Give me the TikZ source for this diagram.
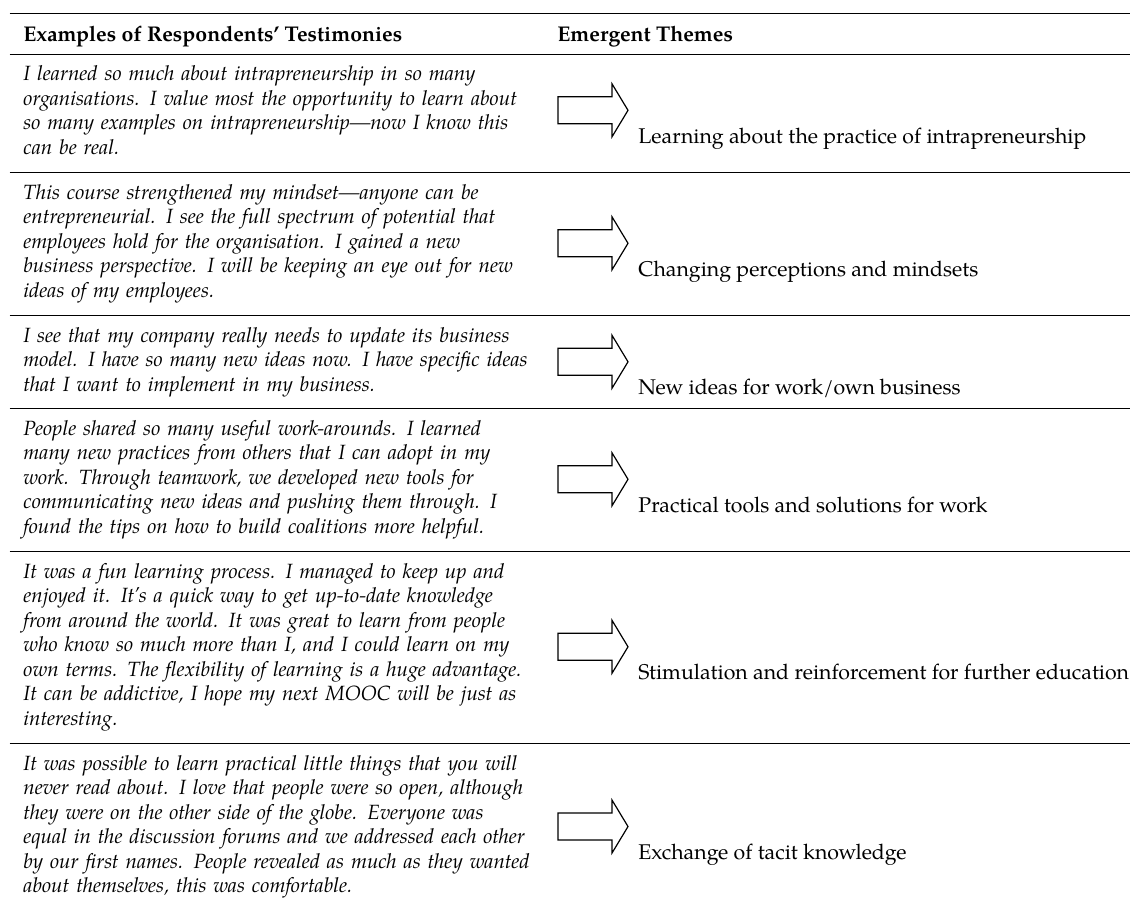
\documentclass[tikz,border=0pt]{standalone}
\usepackage{fontspec}
\setmainfont{TeX Gyre Pagella}
\newcommand{\jline}[1]{\makebox[250pt][s]{#1}}
\begin{document}
\begin{tikzpicture}[x=0.5pt,y=-0.5pt,
  testimony/.style={anchor=base west, inner sep=0pt, text width=275pt, align=left,
    font=\fontsize{10.3}{12.25}\selectfont\itshape},
  theme/.style={anchor=base west, inner sep=0pt, font=\fontsize{10.65}{12.25}\selectfont},
  headtext/.style={anchor=base west, inner sep=0pt, font=\fontsize{10.65}{12.25}\selectfont\bfseries},
  rulethick/.style={line width=0.7pt},
  rulethin/.style={line width=0.45pt},
  arrowline/.style={draw=black, line width=0.6pt, fill=white},
  themearrow/.pic={\draw[arrowline] (0,-13.5) -- (54,-13.5) -- (54,-26.5) -- (70,0)
      -- (54,26.5) -- (54,13.5) -- (0,13.5) -- cycle;}]
\useasboundingbox (0,0) rectangle (1130,904);
% rules
\draw[rulethick] (9.5,13.5) -- (1130,13.5);
\draw[rulethin] (9.5,54) -- (1130,54);
\draw[rulethin] (9.5,172) -- (1130,172);
\draw[rulethin] (9.5,315) -- (1130,315);
\draw[rulethin] (9.5,408) -- (1130,408);
\draw[rulethin] (9.5,551) -- (1130,551);
\draw[rulethin] (9.5,743) -- (1130,743);
% header
\node[headtext] (h1) at (23,42) {Examples of Respondents’ Testimonies};
\node[headtext] (h2) at (557,42) {Emergent Themes};
% rows
\node[testimony] (t1) at (23,81) {%
\jline{I learned so much about intrapreneurship in so many}\\
\jline{organisations. I value most the opportunity to learn about}\\
\jline{so many examples on intrapreneurship—now I know this}\\
can be real.};
\node[testimony] (t2) at (23,199) {%
\jline{This course strengthened my mindset—anyone can be}\\
\jline{entrepreneurial. I see the full spectrum of potential that}\\
\jline{employees hold for the organisation. I gained a new}\\
\jline{business perspective. I will be keeping an eye out for new}\\
ideas of my employees.};
\node[testimony] (t3) at (23,342) {%
\jline{I see that my company really needs to update its business}\\
\jline{model. I have so many new ideas now. I have specific ideas}\\
that I want to implement in my business.};
\node[testimony] (t4) at (23,435) {%
\jline{People shared so many useful work-arounds. I learned}\\
\jline{many new practices from others that I can adopt in my}\\
\jline{work. Through teamwork, we developed new tools for}\\
\jline{communicating new ideas and pushing them through. I}\\
found the tips on how to build coalitions more helpful.};
\node[testimony] (t5) at (23,578) {%
\jline{It was a fun learning process. I managed to keep up and}\\
\jline{enjoyed it. It’s a quick way to get up-to-date knowledge}\\
\jline{from around the world. It was great to learn from people}\\
\jline{who know so much more than I, and I could learn on my}\\
\jline{own terms. The flexibility of learning is a huge advantage.}\\
\jline{It can be addictive, I hope my next MOOC will be just as}\\
interesting.};
\node[testimony] (t6) at (23,770) {%
\jline{It was possible to learn practical little things that you will}\\
\jline{never read about. I love that people were so open, although}\\
\jline{they were on the other side of the globe. Everyone was}\\
\jline{equal in the discussion forums and we addressed each other}\\
\jline{by our first names. People revealed as much as they wanted}\\
about themselves, this was comfortable.};
% arrows and themes
\coordinate (a1) at (558,0 |- t1.center);
\coordinate (a2) at (558,0 |- t2.center);
\coordinate (a3) at (558,0 |- t3.center);
\coordinate (a4) at (558,0 |- t4.center);
\coordinate (a5) at (558,0 |- t5.center);
\coordinate (a6) at (558,0 |- t6.center);
\pic at (a1) {themearrow};
\pic at (a2) {themearrow};
\pic at (a3) {themearrow};
\pic at (a4) {themearrow};
\pic at (a5) {themearrow};
\pic at (a6) {themearrow};
\node[theme] (e1) at ([xshift=40pt,yshift=-16.5pt]a1) {Learning about the practice of intrapreneurship};
\node[theme] (e2) at ([xshift=40pt,yshift=-16.5pt]a2) {Changing perceptions and mindsets};
\node[theme] (e3) at ([xshift=40pt,yshift=-16.5pt]a3) {New ideas for work/own business};
\node[theme] (e4) at ([xshift=40pt,yshift=-16.5pt]a4) {Practical tools and solutions for work};
\node[theme] (e5) at ([xshift=40pt,yshift=-16.5pt]a5) {Stimulation and reinforcement for further education};
\node[theme] (e6) at ([xshift=40pt,yshift=-16.5pt]a6) {Exchange of tacit knowledge};
\end{tikzpicture}
\end{document}
